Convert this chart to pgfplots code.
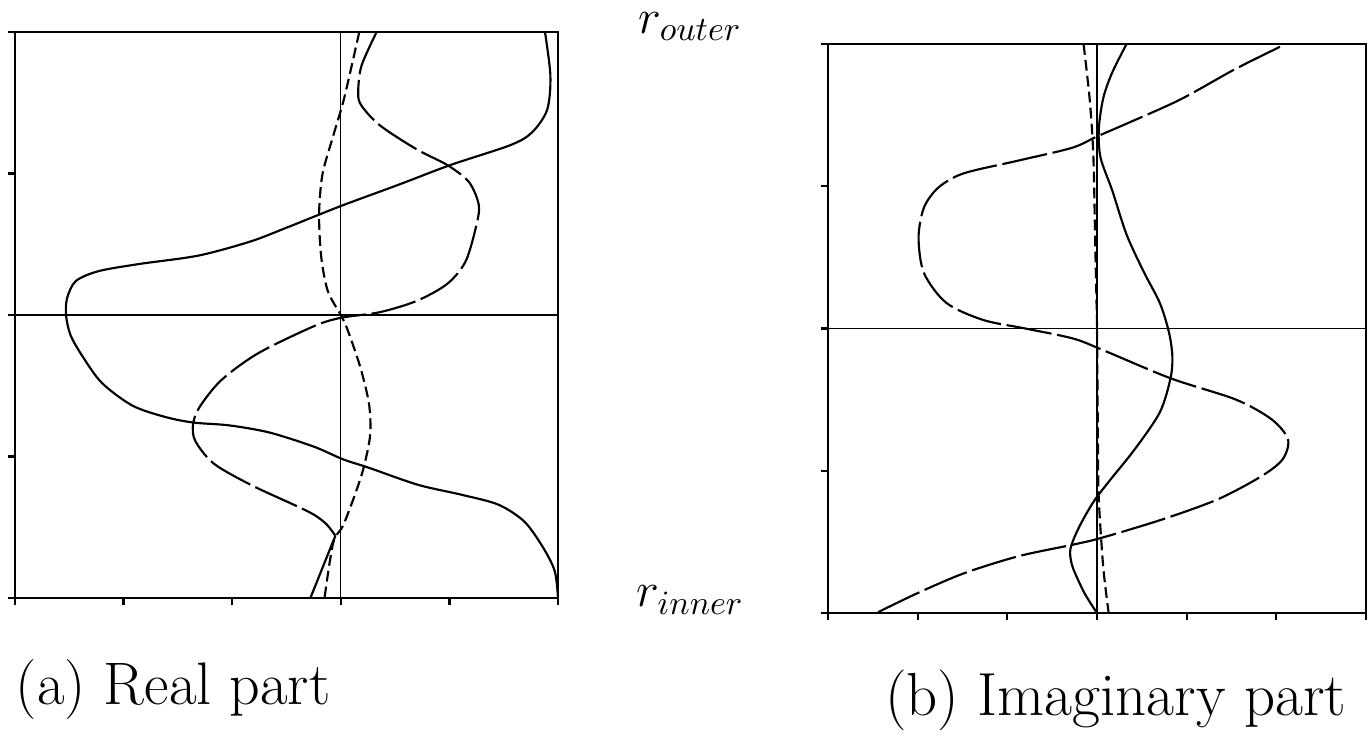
\documentclass[border=0pt]{standalone}
\usepackage{fix-cm}
\usepackage{pgfplots}
\pgfplotsset{compat=1.18}
\begin{document}
\begin{tikzpicture}[x=1pt,y=1pt]
\useasboundingbox (0,0) rectangle (479.15,264.25);
\pgfplotsset{
  profile/.style={
    scale only axis,
    anchor=south west,
    axis line style={line width=0.9pt},
    tick style={line width=0.8pt,black},
    tick align=outside,
    major tick length=2.6pt,
    xtick pos=bottom, ytick pos=left,
    xticklabels={,,}, yticklabels={,,},
    ymin=0, ymax=4, ytick={0,1,2,3,4},
    every axis plot/.append style={mark=none},
  },
  full/.style={black, line width=0.75pt, smooth},
  longdash/.style={black, line width=0.75pt, smooth, dash pattern=on 16pt off 2pt},
  shortdash/.style={black, line width=0.75pt, smooth, dash pattern=on 3.8pt off 1.8pt},
  zero/.style={black, line width=0.4pt},
}

% (a) real part
\begin{axis}[profile, at={(5.25pt,54.95pt)}, width=190.05pt, height=198.1pt,
  xmin=-3, xmax=2, xtick={-3,-2,-1,0,1,2}]
\addplot[zero] coordinates {(0,0) (0,4)};
\addplot[zero] coordinates {(-3,2) (2,2)};
\addplot[full] coordinates {
 (1.88,4.0) (1.93,3.69) (1.90,3.45) (1.76,3.29) (1.56,3.20) (1.01,3.06)
 (0.53,2.92) (0.0,2.77) (-0.49,2.62) (-0.83,2.52) (-1.31,2.42) (-1.86,2.36)
 (-2.23,2.31) (-2.44,2.24) (-2.52,2.12) (-2.53,2.0) (-2.49,1.86) (-2.38,1.71)
 (-2.20,1.52) (-1.92,1.36) (-1.62,1.28) (-1.36,1.24) (-1.03,1.22) (-0.66,1.17)
 (-0.25,1.07) (0.02,0.98) (0.26,0.92) (0.71,0.80) (1.11,0.73) (1.45,0.66)
 (1.69,0.54) (1.86,0.36) (1.97,0.19) (2.0,0.0)};
\addplot[longdash] coordinates {
 (0.33,4.0) (0.19,3.76) (0.16,3.57) (0.19,3.48) (0.36,3.34) (0.70,3.17)
 (0.98,3.06) (1.18,2.94) (1.27,2.78) (1.25,2.64) (1.15,2.38) (0.98,2.22)
 (0.70,2.10) (0.36,2.02) (0.0,1.98) (-0.25,1.92) (-0.76,1.73) (-1.10,1.54)
 (-1.30,1.35) (-1.36,1.23) (-1.34,1.11) (-1.17,0.95) (-0.83,0.80) (-0.45,0.665)
 (-0.25,0.59) (-0.13,0.52) (-0.05,0.44)};
\addplot[full] coordinates {(-0.05,0.44) (-0.28,0.0)};
\addplot[shortdash] coordinates {
 (0.17,4.0) (0.10,3.76) (0.02,3.50) (-0.08,3.24) (-0.17,2.99) (-0.20,2.71)
 (-0.18,2.41) (-0.12,2.17) (0.0,2.0) (0.06,1.90) (0.18,1.63) (0.26,1.37)
 (0.27,1.15) (0.21,0.92) (0.13,0.73) (0.02,0.51) (-0.07,0.39) (-0.15,0.0)};
\end{axis}

% (b) imaginary part
\begin{axis}[profile, at={(289.8pt,49.7pt)}, width=188.3pt, height=199.15pt,
  xmin=-3, xmax=3, xtick={-3,-2,-1,0,1,2,3}]
\addplot[zero] coordinates {(0,0) (0,4)};
\addplot[zero] coordinates {(-3,2) (3,2)};
\addplot[longdash] coordinates {
 (2.04,3.98) (1.53,3.82) (0.93,3.61) (0.33,3.44) (0.0,3.35) (-0.28,3.27)
 (-0.88,3.18) (-1.49,3.09) (-1.77,2.99) (-1.93,2.85) (-1.99,2.64) (-1.93,2.39)
 (-1.68,2.18) (-1.27,2.06) (-0.80,2.0) (-0.27,1.93) (0.06,1.85) (0.82,1.65)
 (1.55,1.50) (1.95,1.36) (2.13,1.22) (2.07,1.08) (1.83,0.96) (1.35,0.80)
 (0.74,0.66) (0.06,0.53) (-0.27,0.48) (-0.87,0.40) (-1.48,0.28) (-2.0,0.14)
 (-2.46,0.0)};
\addplot[full] coordinates {
 (0.33,4.0) (0.17,3.80) (0.07,3.62) (0.02,3.40) (0.04,3.20) (0.17,2.97)
 (0.33,2.66) (0.52,2.40) (0.70,2.18) (0.80,1.98) (0.84,1.81) (0.82,1.65)
 (0.70,1.41) (0.42,1.15) (0.14,0.93) (-0.03,0.79) (-0.17,0.64) (-0.26,0.52)
 (-0.30,0.43) (-0.27,0.32) (-0.14,0.14) (0.0,0.0)};
\addplot[shortdash] coordinates {
 (-0.15,4.0) (-0.08,3.6) (-0.04,3.2) (-0.02,2.6) (0.0,2.0) (0.01,1.2)
 (0.02,0.8) (0.07,0.32) (0.13,0.0)};
\end{axis}

\node[inner sep=0pt, font=\fontsize{17}{20}\selectfont] at (241.5,255.0) {$r_{outer}$};
\node[inner sep=0pt, font=\fontsize{17}{20}\selectfont] at (241.5,54.2) {$r_{inner}$};
\node[font=\fontsize{21}{25}\selectfont] at (60.6,22.75) {(a) Real part};
\node[font=\fontsize{21.3}{25}\selectfont] at (390.5,19.25) {(b) Imaginary part};
\end{tikzpicture}
\end{document}
